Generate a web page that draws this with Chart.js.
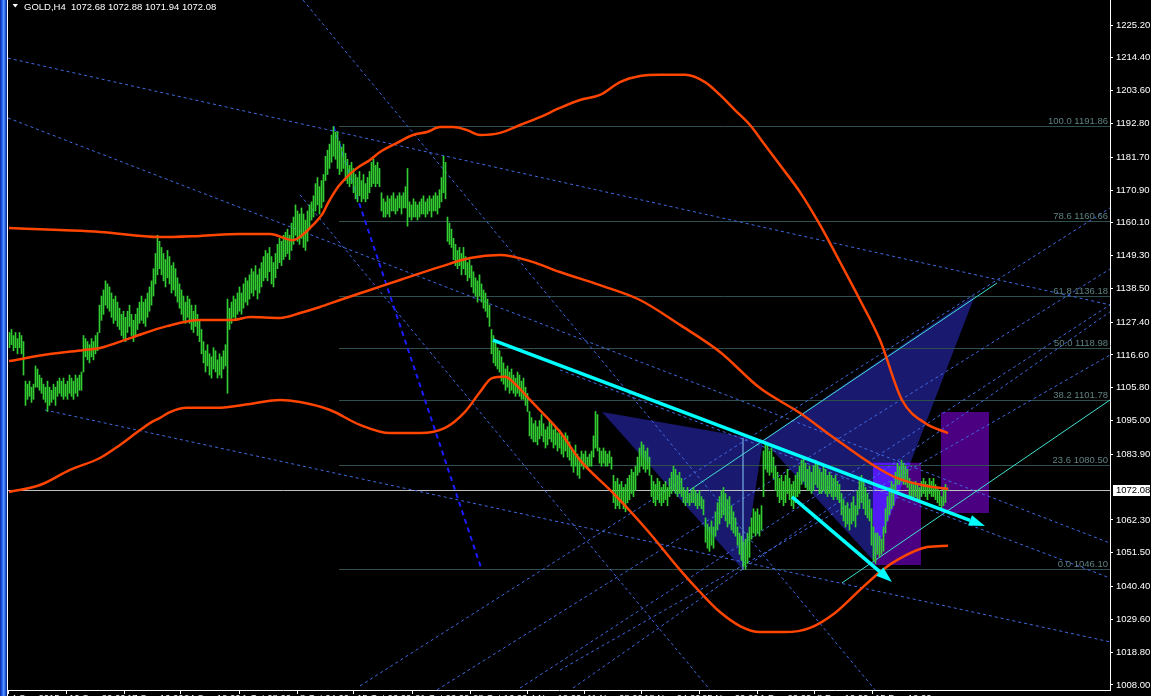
<!DOCTYPE html>
<html><head><meta charset="utf-8">
<script src="https://cdn.jsdelivr.net/npm/chart.js@4.4.1/dist/chart.umd.min.js"></script>
<style>html,body{margin:0;padding:0;background:#000;overflow:hidden;width:1151px;height:696px}canvas{display:block}</style>
</head><body>
<canvas id="c" width="1151" height="696"></canvas>
<script>
const symbolTitle = "GOLD,H4";
const lastQuote = ["1072.68", "1072.88", "1071.94", "1072.08"];
const lastPrice = 1072.08;

const yTicks = [1225.20,1214.40,1203.60,1192.80,1181.70,1170.90,1160.10,1149.30,1138.50,1127.40,1116.60,1105.80,1095.00,1083.90,1062.30,1051.50,1040.40,1029.60,1018.80,1008.00];
const xTickVals = [-0.75,28.25,57.25,85.75,114.75,143.75,172.25,201.25,230.25,258.75,287.25,315.75,344.75,373.75,402.25,431.25];
const xTickLabels = ["4 Sep 2015","10 Sep 20:00","17 Sep 16:00","24 Sep 12:00","1 Oct 08:00","8 Oct 04:00","15 Oct 00:00","21 Oct 20:00","28 Oct 16:00","4 Nov 12:00","11 Nov 08:00","18 Nov 04:00","25 Nov 00:00","1 Dec 20:00","8 Dec 16:00","15 Dec 12:00"];

const barHigh = [
1124,1125,1123,1124,1122,1124,1123,1121,1108,1107,
1108,1106,1107,1113,1112,1110,1109,1107,1106,1108,
1106,1105,1107,1106,1108,1109,1108,1109,1107,1108,
1110,1109,1108,1110,1109,1110,1111,1123,1122,1121,
1120,1122,1121,1123,1124,1133,1136,1138,1141,1140,
1139,1137,1135,1136,1134,1132,1130,1131,1129,1131,
1133,1130,1128,1130,1132,1134,1136,1134,1135,1137,
1139,1141,1145,1150,1156,1154,1152,1150,1148,1151,
1149,1146,1147,1145,1142,1140,1138,1136,1134,1136,
1135,1133,1131,1133,1130,1128,1125,1121,1118,1120,
1117,1116,1119,1118,1115,1117,1116,1118,1120,1135,
1132,1134,1136,1135,1137,1139,1137,1140,1142,1141,
1143,1145,1144,1146,1143,1145,1147,1149,1151,1150,
1152,1149,1147,1150,1153,1155,1154,1156,1157,1158,
1156,1160,1162,1166,1164,1163,1165,1163,1161,1164,
1166,1167,1169,1173,1175,1172,1174,1176,1182,1184,
1186,1189,1191.8,1190,1190,1187,1185,1186,1183,1181,
1179,1180,1178,1176,1175,1177,1174,1176,1173,1175,
1177,1180,1181,1179,1180,1178,1170,1168,1167,1169,
1168,1169,1170,1168,1169,1170,1169,1170,1172,1178,
1167,1166,1168,1167,1166,1167,1168,1169,1167,1168,
1169,1168,1169,1170,1169,1171,1175,1182,1180,1162,
1160,1158,1155,1153,1151,1152,1150,1152,1149,1147,
1148,1146,1144,1142,1141,1143,1140,1138,1137,1135,
1133,1125,1123,1121,1119,1118,1116,1114,1112,1113,
1111,1112,1110,1109,1111,1110,1108,1109,1106,1104,
1098,1096,1094,1095,1093,1095,1097,1094,1092,1093,
1095,1094,1092,1093,1091,1092,1090,1089,1091,1090,
1088,1086,1085,1087,1084,1083,1085,1084,1085,1083,
1084,1085,1090,1098,1097,1086,1085,1086,1085,1084,
1085,1083,1077,1075,1076,1074,1075,1073,1074,1076,
1077,1079,1078,1080,1083,1086,1088,1087,1085,1086,
1083,1077,1075,1074,1076,1075,1073,1074,1075,1073,
1076,1078,1080,1079,1077,1078,1076,1073,1072,1073,
1071,1072,1073,1072,1071,1072,1070,1069,1063,1061,
1060,1062,1060,1065,1068,1070,1072,1073,1071,1069,
1070,1067,1065,1063,1060,1058,1057,1055,1056,1058,
1060,1063,1066,1065,1066,1064,1067,1085,1088,1087,
1085,1086,1083,1080,1078,1076,1077,1075,1077,1079,
1076,1074,1075,1077,1078,1080,1082,1083,1081,1079,
1080,1078,1080,1082,1081,1079,1078,1080,1079,1077,
1078,1077,1076,1077,1075,1074,1071,1069,1067,1068,
1066,1068,1070,1067,1072,1076,1077,1075,1073,1071,
1069,1066,1060,1058,1058,1057,1056,1060,1066,1070,
1073,1075,1074,1078,1081,1080,1082,1081,1080,1079,
1076,1075,1074,1075,1074,1073,1075,1076,1075,1074,
1076,1075,1076,1074,1073,1072,1070,1073,1074,1072.88];

const barLow = [
1119,1120,1118,1119,1117,1119,1117,1110,1100,1102,
1103,1101,1102,1106,1106,1105,1104,1102,1101,1098,
1100,1101,1102,1100,1103,1104,1103,1102,1103,1102,
1104,1103,1102,1104,1103,1105,1105,1111,1116,1115,
1114,1116,1115,1117,1118,1124,1128,1130,1133,1132,
1131,1129,1127,1128,1126,1125,1123,1122,1121,1124,
1126,1123,1121,1123,1125,1127,1128,1127,1126,1129,
1131,1133,1136,1140,1143,1145,1143,1141,1139,1142,
1140,1137,1138,1136,1134,1132,1130,1128,1127,1129,
1127,1125,1124,1126,1123,1121,1117,1114,1111,1113,
1110,1109,1112,1111,1109,1110,1109,1112,1113,1104,
1125,1127,1129,1128,1130,1131,1130,1132,1134,1133,
1135,1137,1136,1138,1135,1137,1139,1141,1142,1141,
1144,1140,1139,1142,1145,1147,1146,1148,1149,1150,
1148,1151,1153,1156,1154,1153,1155,1152,1151,1154,
1158,1161,1162,1164,1166,1163,1165,1167,1174,1176,
1178,1180,1182,1181,1178,1176,1177,1178,1174,1173,
1172,1173,1170,1168,1167,1169,1167,1168,1167,1168,
1170,1172,1173,1172,1173,1172,1164,1162,1162,1163,
1162,1164,1164,1163,1164,1165,1163,1165,1165,1159,
1162,1161,1162,1162,1161,1162,1163,1163,1162,1163,
1164,1162,1164,1164,1163,1165,1167,1170,1168,1154,
1153,1152,1148,1146,1145,1146,1143,1145,1143,1141,
1142,1139,1137,1136,1134,1136,1134,1132,1131,1129,
1126,1117,1114,1113,1112,1111,1108,1107,1105,1106,
1104,1105,1104,1103,1104,1103,1102,1102,1100,1098,
1090,1089,1088,1088,1087,1089,1090,1088,1086,1087,
1089,1088,1086,1087,1085,1086,1084,1083,1085,1083,
1082,1080,1078,1080,1077,1076,1080,1079,1080,1079,
1080,1080,1083,1086,1085,1081,1080,1081,1080,1080,
1081,1079,1068,1066,1067,1066,1068,1066,1065,1068,
1069,1071,1070,1072,1077,1078,1080,1079,1078,1079,
1077,1070,1068,1067,1069,1068,1067,1068,1069,1067,
1070,1071,1072,1071,1070,1071,1070,1068,1067,1068,
1067,1068,1068,1067,1066,1067,1066,1064,1055,1053,
1052,1054,1053,1057,1059,1061,1063,1064,1062,1060,
1061,1059,1058,1057,1054,1051,1049,1047,1046.1,1048,
1050,1056,1058,1057,1058,1057,1059,1070,1079,1078,
1077,1078,1076,1072,1070,1068,1069,1067,1068,1071,
1069,1067,1066,1068,1070,1071,1074,1075,1073,1072,
1072,1071,1072,1074,1073,1071,1071,1072,1071,1070,
1071,1070,1069,1070,1069,1068,1064,1062,1060,1061,
1059,1061,1062,1060,1064,1066,1068,1066,1064,1063,
1062,1054,1049,1048,1051,1050,1051,1052,1058,1062,
1064,1066,1067,1071,1074,1074,1075,1074,1074,1073,
1070,1069,1069,1070,1069,1068,1070,1071,1070,1069,
1071,1070,1070,1069,1068,1067,1066,1067,1068,1071.94];

const upperBand = [[-0.25,1158.4],[25.25,1157.7],[45.25,1157.1],[75.25,1155.4],[95.25,1155.8],[115.25,1156.4],[130.25,1156.4],[141.75,1154.4],[147.75,1156.8],[151.75,1159.4],[156.75,1163.3],[159.25,1166.6],[164.25,1171.9],[168.75,1175.2],[173.75,1178.1],[180.25,1180.8],[185.25,1183.4],[193.75,1186.4],[201.75,1189.0],[208.75,1190.0],[215.25,1191.6],[221.75,1191.6],[228.75,1190.6],[235.25,1189.0],[245.25,1189.7],[255.25,1192.3],[265.25,1194.9],[275.25,1197.9],[285.25,1200.5],[295.25,1202.2],[305.25,1206.4],[315.25,1208.4],[325.25,1208.8],[337.75,1208.8],[347.75,1206.4],[355.25,1202.2],[362.75,1197.2],[370.25,1192.3],[377.75,1185.7],[385.25,1179.1],[395.25,1170.2],[405.25,1159.4],[415.25,1147.2],[425.25,1134.7],[435.25,1121.5],[446.25,1101.8],[457.75,1094.2],[469.25,1090.9]];
const middleBand = [[-0.25,1114.6],[20.25,1116.9],[36.75,1118.2],[45.25,1118.9],[61.75,1122.5],[78.75,1126.1],[95.25,1128.1],[111.75,1128.1],[120.25,1129.1],[135.25,1128.8],[145.25,1130.4],[155.25,1132.4],[165.25,1134.7],[180.25,1138.0],[195.25,1141.3],[215.25,1145.6],[230.25,1148.5],[245.25,1149.5],[260.25,1147.5],[275.25,1143.9],[295.25,1139.6],[315.25,1134.7],[335.25,1126.5],[355.25,1117.6],[375.25,1105.7],[395.25,1097.5],[410.25,1090.3],[431.75,1080.4],[443.75,1076.1],[458.75,1073.5],[469.25,1072.5]];
const lowerBand = [[-0.25,1071.5],[15.25,1073.8],[30.25,1078.8],[45.25,1082.7],[55.25,1087.0],[65.25,1091.9],[70.25,1094.2],[75.25,1095.9],[80.25,1097.8],[88.75,1099.2],[103.75,1099.2],[120.25,1100.5],[135.25,1101.8],[145.25,1101.1],[160.25,1098.5],[175.25,1093.6],[190.25,1090.9],[205.25,1090.9],[217.75,1092.6],[227.75,1097.9],[235.25,1104.4],[241.25,1109.0],[247.75,1109.4],[252.75,1107.1],[260.25,1101.8],[275.25,1091.3],[285.25,1082.0],[301.75,1071.2],[318.75,1059.0],[335.25,1045.9],[345.25,1038.6],[355.25,1032.0],[365.25,1027.4],[375.25,1025.4],[387.75,1025.4],[400.25,1026.8],[412.75,1031.7],[425.25,1039.3],[435.25,1045.2],[443.75,1049.1],[458.75,1053.4],[469.25,1053.8]];

const fibPct = [100.0, 78.6, 61.8, 50.0, 38.2, 23.6, 0.0];
const fibPrice = [1191.86, 1160.66, 1136.18, 1118.98, 1101.78, 1080.50, 1046.10];
const fibStartIdx = 164.75;
const fibTie = [162, 1191.86, 236, 1046.10];

const trendLines = [
 [-0.75,1214.3, 550.25,1133.1],
 [-0.75,1194.6, 550.25,1054.7],
 [17.75,1098.5, 550.25,1022.2],
 [146.75,1233.4, 432.75,1006.4],
 [145.25,1169.3, 350.25,1006.4],
 [175.25,1007.7, 550.25,1165.0],
 [213.75,1006.4, 550.25,1144.9],
 [255.25,1007.0, 550.25,1133.1],
 [281.75,1007.0, 550.25,1130.8],
 [275.25,1012.9, 550.25,1116.6],
 [275.25,1111.7, 550.25,1043.2]
];
const channelLines = [[340.25,1072.2, 493.75,1140.3],[416.25,1041.6, 550.25,1101.8]];
const markerLine = [366.75,1089.3, 366.75,1045.9];
const patternTriangles = [
 [[296.25,1097.8],[376.75,1088.6],[366.75,1045.9]],
 [[376.75,1088.6],[482.75,1136.3],[431.75,1049.1]]
];
const boxes = [[431.75,1081.1, 455.75,1047.5],[465.75,1097.8, 489.75,1064.6]];
const arrows = [[241.75,1121.5, 487.75,1060.3],[391.25,1069.9, 441.25,1041.9]];

const FONT = '"Liberation Sans", Arial, sans-serif';
const frameStripe = ['#0e36b0','#1a4fdc','#2e6cf6','#5a94ff','#3c78f0','#1f56d8','#0c2c98','#ffffff'];

function P(chart, v, p){ return [chart.scales.x.getPixelForValue(v), chart.scales.y.getPixelForValue(p)]; }

const overlay = {
  id:'overlay',
  beforeDraw(chart){
    const ctx = chart.ctx; ctx.save();
    ctx.fillStyle = '#000'; ctx.fillRect(0,0,chart.width,chart.height);
    frameStripe.forEach((c,i)=>{ ctx.fillStyle=c; ctx.fillRect(i,0,1,chart.height); });
    ctx.restore();
  },
  beforeDatasetsDraw(chart){
    const ctx = chart.ctx, a = chart.chartArea;
    ctx.save();
    ctx.beginPath(); ctx.rect(a.left, a.top, a.right-a.left, a.bottom-a.top); ctx.clip();
    const poly = pts => { ctx.beginPath(); pts.forEach(([v,p],k)=>{ const [x,y]=P(chart,v,p); k?ctx.lineTo(x,y):ctx.moveTo(x,y); }); ctx.closePath(); };
    const rectPts = b => [[b[0],b[1]],[b[2],b[1]],[b[2],b[3]],[b[0],b[3]]];
    ctx.fillStyle = '#191970';
    patternTriangles.forEach(t=>{ poly(t); ctx.fill(); });
    ctx.fillStyle = '#4B0082';
    boxes.forEach(b=>{ poly(rectPts(b)); ctx.fill(); });
    ctx.save(); poly(patternTriangles[1]); ctx.clip();
    ctx.fillStyle = '#5219F2';
    boxes.forEach(b=>{ poly(rectPts(b)); ctx.fill(); });
    ctx.restore();

    ctx.strokeStyle = '#2F4F4F'; ctx.lineWidth = 1;
    fibPrice.forEach(p=>{
      const [x0,y] = P(chart, fibStartIdx, p);
      const yy = Math.round(y)+0.5;
      ctx.beginPath(); ctx.moveTo(x0,yy); ctx.lineTo(a.right,yy); ctx.stroke();
    });
    const yb = Math.round(chart.scales.y.getPixelForValue(lastPrice))+0.5;
    ctx.strokeStyle = '#C0C0C0';
    ctx.beginPath(); ctx.moveTo(a.left,yb); ctx.lineTo(a.right,yb); ctx.stroke();

    const seg = (l) => { const [x1,y1]=P(chart,l[0],l[1]); const [x2,y2]=P(chart,l[2],l[3]); ctx.beginPath(); ctx.moveTo(x1,y1); ctx.lineTo(x2,y2); ctx.stroke(); };
    ctx.setLineDash([3,3]); ctx.strokeStyle = '#4169E1'; ctx.lineWidth = 1;
    trendLines.forEach(seg);
    ctx.setLineDash([5,4]); ctx.strokeStyle = '#1C1CFF'; ctx.lineWidth = 2;
    seg(fibTie);
    ctx.setLineDash([]);
    ctx.strokeStyle = '#40E0D0'; ctx.lineWidth = 1;
    channelLines.forEach(seg);
    ctx.strokeStyle = '#87CEFA';
    seg(markerLine);
    ctx.restore();
  },
  afterDatasetsDraw(chart){
    const ctx = chart.ctx, a = chart.chartArea;
    ctx.save();
    ctx.beginPath(); ctx.rect(a.left, a.top, a.right-a.left, a.bottom-a.top); ctx.clip();
    arrows.forEach(l=>{
      const [x1,y1]=P(chart,l[0],l[1]); const [x2,y2]=P(chart,l[2],l[3]);
      const ang = Math.atan2(y2-y1,x2-x1), hl=16, hw=5.5;
      const bx = x2-hl*Math.cos(ang), by = y2-hl*Math.sin(ang);
      ctx.strokeStyle='#00FFFF'; ctx.lineWidth=3.5; ctx.lineCap='butt';
      ctx.beginPath(); ctx.moveTo(x1,y1); ctx.lineTo(bx,by); ctx.stroke();
      ctx.fillStyle='#00FFFF';
      ctx.beginPath(); ctx.moveTo(x2,y2);
      ctx.lineTo(bx - hw*Math.sin(ang), by + hw*Math.cos(ang));
      ctx.lineTo(bx + hw*Math.sin(ang), by - hw*Math.cos(ang));
      ctx.closePath(); ctx.fill();
    });
    ctx.font = '9.5px ' + FONT; ctx.fillStyle = '#5F8080'; ctx.textAlign='right'; ctx.textBaseline='alphabetic';
    fibPrice.forEach((p,i)=>{
      const y = Math.round(chart.scales.y.getPixelForValue(p));
      ctx.fillText(fibPct[i].toFixed(1)+' '+p.toFixed(2), a.right-2, y-2);
    });
    ctx.restore();
    ctx.save();
    ctx.fillStyle='#fff';
    ctx.beginPath(); ctx.moveTo(12.5,4); ctx.lineTo(18,4); ctx.lineTo(15.25,7.5); ctx.closePath(); ctx.fill();
    ctx.font = '9.5px ' + FONT; ctx.textAlign='left'; ctx.textBaseline='alphabetic';
    ctx.fillText(symbolTitle + '  ' + lastQuote.join(' '), 24, 10);
    ctx.restore();
  },
  afterDraw(chart){
    const ctx = chart.ctx, a = chart.chartArea;
    const y = Math.round(chart.scales.y.getPixelForValue(lastPrice));
    ctx.save();
    ctx.fillStyle='#fff'; ctx.fillRect(a.right+3, y-5, 37, 11);
    ctx.fillStyle='#000'; ctx.font='9.5px '+FONT; ctx.textAlign='left'; ctx.textBaseline='middle';
    ctx.fillText(lastPrice.toFixed(2), a.right+6, y+0.5);
    ctx.restore();
  }
};

const bandStyle = {borderColor:'#FF4500', borderWidth:2.5, pointRadius:0, cubicInterpolationMode:'monotone', fill:false, order:1};

new Chart(document.getElementById('c'), {
  type:'bar',
  data:{ datasets:[
    Object.assign({type:'line', label:'Upper', data: upperBand.map(([x,y])=>({x,y}))}, bandStyle),
    Object.assign({type:'line', label:'Middle', data: middleBand.map(([x,y])=>({x,y}))}, bandStyle),
    Object.assign({type:'line', label:'Lower', data: lowerBand.map(([x,y])=>({x,y}))}, bandStyle),
    {type:'bar', label:'GOLD,H4', data: barHigh.map((h,i)=>({x:i, y:[barLow[i], h]})), backgroundColor:'#32CD32', barThickness:1, grouped:false, borderWidth:0, order:2}
  ]},
  options:{
    responsive:false, animation:false, devicePixelRatio:1, events:[],
    layout:{padding:{left:8,right:0,top:0,bottom:0}},
    plugins:{legend:{display:false}, tooltip:{enabled:false}},
    scales:{
      x:{ type:'linear', position:'bottom', min:-0.75, max:550.25, offset:false,
        afterBuildTicks: s => { s.ticks = xTickVals.map(v=>({value:v})); },
        afterFit: s => { s.height = 6; s.paddingLeft = 0; s.paddingRight = 0; },
        ticks:{ color:'#fff', font:{family:FONT, size:9.5}, padding:-1, labelOffset:3, align:'start', autoSkip:false, maxRotation:0, minRotation:0,
          callback:(v,i)=>xTickLabels[i] },
        grid:{ offset:false, drawOnChartArea:false, drawTicks:true, tickLength:4, color:'#fff' },
        border:{ display:true, color:'#fff' }
      },
      y:{ type:'linear', position:'right', min:1006.35, max:1233.43,
        afterBuildTicks: s => { s.ticks = yTicks.map(v=>({value:v})); },
        afterFit: s => { s.width = 41; s.paddingTop = 0; s.paddingBottom = 0; },
        ticks:{ color:'#fff', font:{family:FONT, size:9.5}, padding:3, autoSkip:false, callback: v => Number(v).toFixed(2) },
        grid:{ drawOnChartArea:false, drawTicks:true, tickLength:3, color:'#fff' },
        border:{ display:true, color:'#fff' }
      }
    }
  },
  plugins:[overlay]
});
</script>
</body></html>
